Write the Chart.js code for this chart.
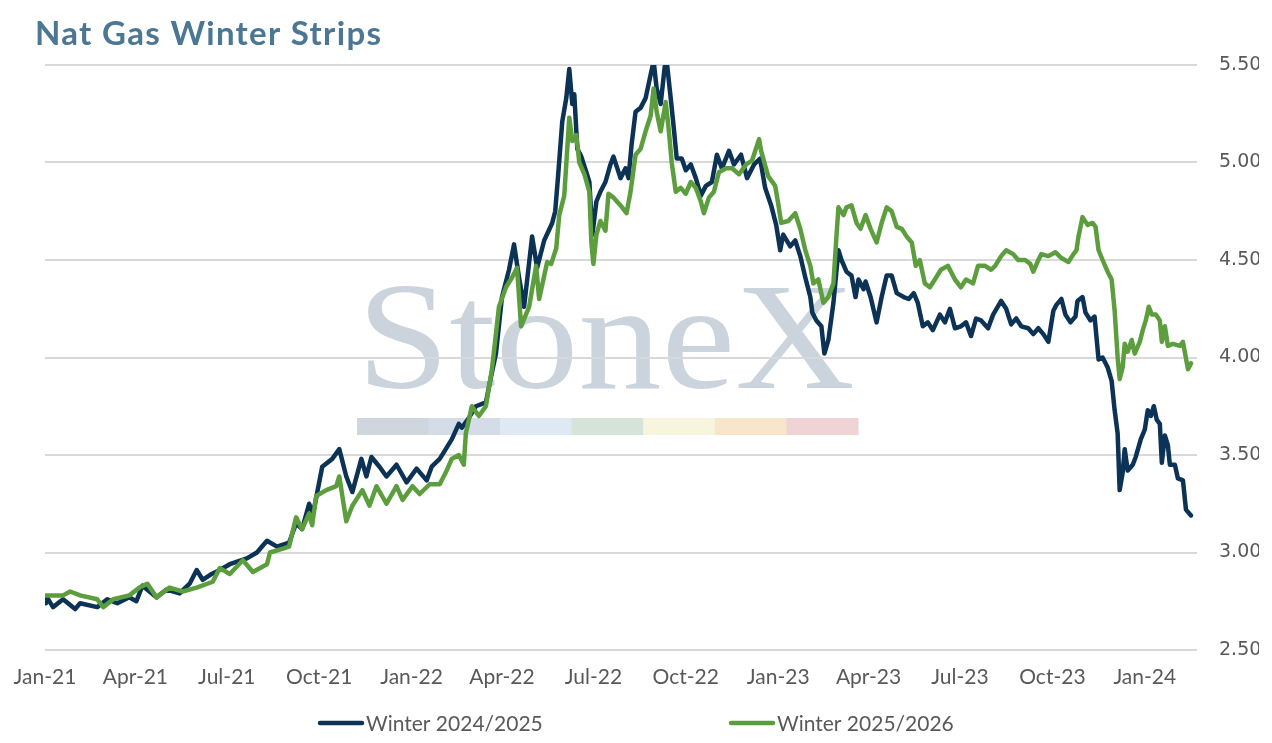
<!DOCTYPE html>
<html>
<head>
<meta charset="utf-8">
<script src="https://cdn.jsdelivr.net/npm/chart.js@4.4.1/dist/chart.umd.min.js"></script>
<style>
  html, body { margin: 0; padding: 0; background: #ffffff; }
  #wrap { width: 1272px; height: 743px; position: relative; }
</style>
</head>
<body>
<div id="wrap"><canvas id="c"></canvas></div>
<script>
// ---- DATA (x = days since 2021-01-01) ----
const startDate = '2021-01-01';
const seriesNames = ['Winter 2024/2025', 'Winter 2025/2026'];

const tickDays = [0, 90, 181, 273, 365, 455, 546, 638, 730, 820, 911, 1003, 1095];
const tickLabels = ['Jan-21','Apr-21','Jul-21','Oct-21','Jan-22','Apr-22','Jul-22','Oct-22','Jan-23','Apr-23','Jul-23','Oct-23','Jan-24'];

const yTicks = [2.5, 3.0, 3.5, 4.0, 4.5, 5.0, 5.5];

const navyDays = [1,2,8,18,30,35,52,62,72,84,91,97,111,121,134,144,151,157,166,174,184,201,211,221,231,243,250,256,263,267,276,286,293,300,306,315,320,325,333,340,350,360,370,380,385,393,399,405,412,415,422,429,439,444,449,455,462,467,472,477,485,490,497,505,508,511,515,519,522,525,527,530,534,539,542,545,549,553,558,563,566,573,578,581,584,588,593,598,603,606,609,613,617,619,623,626,629,634,638,643,648,653,658,664,669,674,681,686,693,699,706,712,717,723,728,732,735,742,747,752,757,762,764,768,773,776,780,785,790,793,798,803,807,810,815,817,822,828,833,838,843,848,855,860,865,869,874,879,884,891,896,901,906,912,917,922,927,932,939,944,952,957,962,967,972,979,984,989,994,999,1004,1007,1012,1016,1021,1026,1028,1033,1036,1041,1045,1049,1053,1058,1062,1065,1068,1070,1073,1075,1078,1083,1086,1091,1095,1098,1101,1104,1107,1110,1112,1115,1118,1120,1125,1128,1133,1136,1141];
const navyValues = [2.74,2.77,2.72,2.76,2.71,2.74,2.72,2.76,2.74,2.77,2.75,2.83,2.77,2.81,2.79,2.84,2.91,2.86,2.89,2.91,2.94,2.97,3.00,3.06,3.03,3.05,3.15,3.12,3.25,3.20,3.44,3.48,3.53,3.39,3.31,3.48,3.39,3.49,3.44,3.39,3.45,3.36,3.43,3.37,3.44,3.48,3.53,3.58,3.66,3.64,3.69,3.75,3.77,3.90,4.02,4.31,4.45,4.58,4.41,4.26,4.62,4.46,4.60,4.69,4.75,4.94,5.21,5.33,5.48,5.30,5.35,5.07,5.03,4.95,4.90,4.63,4.80,4.85,4.90,4.99,5.03,4.92,4.97,4.92,5.09,5.26,5.28,5.33,5.45,5.52,5.38,5.30,5.49,5.52,5.33,5.18,5.02,5.02,4.96,4.99,4.92,4.83,4.88,4.90,5.04,4.97,5.06,4.99,5.04,4.92,4.99,5.02,4.87,4.78,4.68,4.55,4.63,4.57,4.60,4.52,4.41,4.31,4.23,4.19,4.16,4.02,4.09,4.28,4.55,4.50,4.44,4.42,4.31,4.40,4.35,4.39,4.31,4.18,4.31,4.42,4.42,4.33,4.31,4.30,4.33,4.28,4.16,4.18,4.14,4.22,4.18,4.25,4.15,4.16,4.18,4.11,4.20,4.19,4.15,4.22,4.29,4.25,4.17,4.20,4.16,4.15,4.12,4.15,4.12,4.08,4.24,4.27,4.30,4.22,4.18,4.21,4.29,4.31,4.23,4.19,4.21,3.99,4.00,3.95,3.88,3.73,3.61,3.32,3.41,3.53,3.42,3.45,3.49,3.58,3.63,3.73,3.70,3.75,3.68,3.66,3.46,3.60,3.55,3.45,3.45,3.38,3.37,3.22,3.19];

const greenDays = [0,18,25,35,52,58,68,84,94,102,111,124,137,151,167,174,184,197,207,221,224,237,243,250,256,263,266,270,280,290,293,300,306,316,323,330,340,350,356,366,373,383,393,399,405,412,417,419,425,432,439,445,452,459,465,470,474,482,489,492,500,504,509,512,517,522,525,529,532,537,542,544,546,549,553,558,561,566,573,579,583,588,593,598,603,606,609,613,618,621,624,628,633,638,643,648,653,656,661,666,671,678,684,691,698,704,711,713,720,727,730,733,740,747,752,757,762,765,770,775,780,785,788,790,795,798,803,808,812,817,822,828,833,838,843,848,853,858,863,867,871,876,881,886,892,899,906,912,917,924,929,936,942,946,952,957,964,969,976,981,984,989,992,999,1006,1012,1019,1024,1027,1029,1033,1038,1043,1046,1049,1053,1058,1062,1065,1068,1070,1073,1075,1078,1082,1085,1090,1093,1096,1099,1102,1106,1110,1112,1115,1118,1123,1130,1133,1138,1141];
const greenValues = [2.78,2.78,2.80,2.78,2.76,2.72,2.76,2.78,2.82,2.84,2.77,2.82,2.80,2.82,2.85,2.92,2.89,2.96,2.90,2.94,3.00,3.02,3.03,3.18,3.12,3.20,3.14,3.29,3.32,3.34,3.39,3.16,3.24,3.32,3.24,3.34,3.25,3.34,3.27,3.34,3.30,3.35,3.35,3.41,3.48,3.50,3.45,3.61,3.75,3.70,3.75,3.94,4.26,4.36,4.41,4.46,4.16,4.26,4.47,4.30,4.49,4.48,4.56,4.73,4.83,5.23,5.11,5.14,5.00,4.94,4.85,4.59,4.48,4.63,4.70,4.65,4.84,4.82,4.78,4.74,4.85,5.04,5.07,5.16,5.24,5.38,5.26,5.16,5.31,5.17,5.00,4.85,4.87,4.84,4.90,4.87,4.80,4.74,4.82,4.85,4.95,4.97,4.97,4.94,4.99,5.01,5.12,5.06,4.93,4.88,4.79,4.69,4.70,4.74,4.66,4.55,4.47,4.38,4.40,4.28,4.31,4.38,4.62,4.77,4.73,4.77,4.78,4.69,4.66,4.73,4.66,4.59,4.69,4.77,4.75,4.67,4.66,4.62,4.59,4.47,4.50,4.38,4.36,4.40,4.45,4.47,4.40,4.36,4.40,4.38,4.47,4.47,4.45,4.47,4.52,4.55,4.53,4.50,4.50,4.48,4.44,4.50,4.53,4.52,4.54,4.51,4.49,4.53,4.55,4.62,4.72,4.68,4.69,4.67,4.55,4.50,4.44,4.40,4.24,4.00,3.89,3.95,4.07,4.03,4.09,4.02,4.08,4.14,4.19,4.26,4.22,4.22,4.19,4.08,4.16,4.06,4.07,4.06,4.08,3.94,3.97];

// ---- STYLE ----
const NAVY = '#0c3356';
const GREEN = '#5c9e3d';
const TEXT_GREY = '#595959';

function toPoints(days, vals) {
  return days.map((d, i) => ({ x: d, y: vals[i] }));
}

const watermarkPlugin = {
  id: 'watermark',
  beforeDraw(chart) {
    const ctx = chart.ctx;
    ctx.save();
    const left = 357, targetW = 498, baseline = 388;
    ctx.font = '150px "Liberation Serif", "DejaVu Serif", serif';
    const w = ctx.measureText('StoneX').width;
    ctx.translate(left, baseline);
    ctx.scale(targetW / w, 1.02);
    ctx.fillStyle = '#cbd3dc';
    ctx.textBaseline = 'alphabetic';
    ctx.textAlign = 'left';
    ctx.fillText('StoneX', 0, 0);
    ctx.restore();
    const bandColors = ['#d0d6de', '#d4dce7', '#dee9f3', '#d5e3d9', '#f7f5dd', '#f8e6cc', '#f0d4d5'];
    const bx = 357, bw = 501, by = 418, bh = 17;
    const seg = bw / bandColors.length;
    ctx.save();
    bandColors.forEach((c, i) => {
      ctx.fillStyle = c;
      ctx.fillRect(bx + i * seg, by, seg + 0.5, bh);
    });
    ctx.restore();
  }
};

const titleLegendPlugin = {
  id: 'titleLegend',
  afterDraw(chart) {
    const ctx = chart.ctx;
    ctx.save();
    ctx.font = 'bold 33px Lato, "Noto Sans", sans-serif';
    if ('letterSpacing' in ctx) ctx.letterSpacing = '1.3px';
    ctx.fillStyle = '#4b7694';
    ctx.textBaseline = 'alphabetic';
    ctx.textAlign = 'left';
    ctx.fillText('Nat Gas Winter Strips', 35, 45);
    if ('letterSpacing' in ctx) ctx.letterSpacing = '0px';

    const colors = [NAVY, GREEN];
    const starts = [318, 729];
    ctx.font = '21px Lato, "Noto Sans", sans-serif';
    ctx.textBaseline = 'middle';
    seriesNames.forEach((name, i) => {
      const x = starts[i], y = 723;
      ctx.strokeStyle = colors[i];
      ctx.lineWidth = 4.5;
      ctx.lineCap = 'round';
      ctx.beginPath();
      ctx.moveTo(x + 2, y);
      ctx.lineTo(x + 44, y);
      ctx.stroke();
      ctx.fillStyle = TEXT_GREY;
      ctx.fillText(name, x + 48, y + 1);
    });
    ctx.restore();
  }
};

new Chart(document.getElementById('c'), {
  type: 'line',
  data: {
    datasets: [
      {
        label: seriesNames[0],
        data: toPoints(navyDays, navyValues),
        borderColor: NAVY,
        backgroundColor: NAVY,
        borderWidth: 4.5,
        pointRadius: 0,
        tension: 0,
        borderJoinStyle: 'round',
        borderCapStyle: 'round',
        order: 1
      },
      {
        label: seriesNames[1],
        data: toPoints(greenDays, greenValues),
        borderColor: GREEN,
        backgroundColor: GREEN,
        borderWidth: 4.5,
        pointRadius: 0,
        tension: 0,
        borderJoinStyle: 'round',
        borderCapStyle: 'round',
        order: 0
      }
    ]
  },
  options: {
    responsive: true,
    maintainAspectRatio: false,
    animation: false,
    layout: { padding: { left: 45, right: 13, top: 65, bottom: 53 } },
    plugins: {
      legend: { display: false },
      title: { display: false },
      tooltip: { enabled: false }
    },
    scales: {
      x: {
        type: 'linear',
        min: 0,
        max: 1147,
        grid: { display: false, drawTicks: false },
        border: { display: false },
        afterBuildTicks(scale) {
          scale.ticks = tickDays.map(v => ({ value: v }));
        },
        afterFit(scale) { scale.height = 40; scale.paddingLeft = 0; scale.paddingRight = 0; },
        ticks: {
          autoSkip: false,
          maxRotation: 0,
          padding: 15,
          color: TEXT_GREY,
          font: { family: 'Lato, "Noto Sans", sans-serif', size: 21 },
          callback(value) {
            const i = tickDays.indexOf(value);
            return i >= 0 ? tickLabels[i] : '';
          }
        }
      },
      y: {
        position: 'right',
        min: yTicks[0],
        max: yTicks[yTicks.length - 1],
        afterBuildTicks(scale) {
          scale.ticks = yTicks.map(v => ({ value: v }));
        },
        afterFit(scale) { scale.width = 62; scale.paddingTop = 0; scale.paddingBottom = 0; },
        grid: { color: '#d9d9d9', lineWidth: 2, drawTicks: false },
        border: { display: false },
        ticks: {
          padding: 22,
          color: TEXT_GREY,
          font: { family: '"DejaVu Sans", Verdana, sans-serif', size: 19 },
          callback(value) { return Number(value).toFixed(2); }
        }
      }
    }
  },
  plugins: [watermarkPlugin, titleLegendPlugin]
});
</script>
</body>
</html>
